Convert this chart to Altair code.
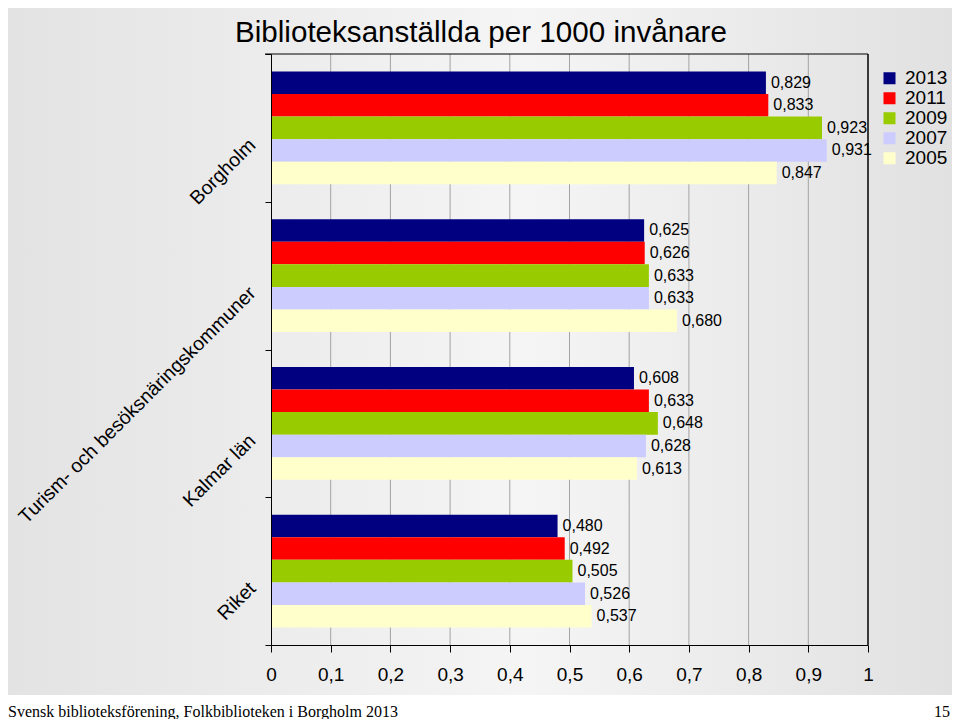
import altair as alt
import pandas as pd

# ---- data ----
groups = ["Borgholm", "Turism- och besöksnäringskommuner", "Kalmar län", "Riket"]
years = ["2013", "2011", "2009", "2007", "2005"]
colors = ["#000080", "#ff0000", "#99cc00", "#ccccff", "#ffffcc"]

borgholm = [0.829, 0.833, 0.923, 0.931, 0.847]
turism = [0.625, 0.626, 0.633, 0.633, 0.680]
kalmar = [0.608, 0.633, 0.648, 0.628, 0.613]
riket = [0.480, 0.492, 0.505, 0.526, 0.537]

x_ticks = [0, 0.1, 0.2, 0.3, 0.4, 0.5, 0.6, 0.7, 0.8, 0.9, 1]
grid_ticks = [0.1, 0.2, 0.3, 0.4, 0.5, 0.6, 0.7, 0.8, 0.9]

title_text = "Biblioteksanställda per 1000 invånare"
footer_left = "Svensk biblioteksförening, Folkbiblioteken i Borgholm 2013"
footer_right = "15"

rows = []
for g, vals in zip(groups, [borgholm, turism, kalmar, riket]):
    for y, v in zip(years, vals):
        rows.append({"group": g, "year": y, "value": v,
                     "label": f"{v:.3f}".replace(".", ",")})
df = pd.DataFrame(rows)

W, H = 597, 591
FONT = "Liberation Sans"

x_scale = alt.Scale(domain=[0, 1], nice=False, zero=True)
y_enc = alt.Y("group:N", sort=groups,
              scale=alt.Scale(paddingInner=0, paddingOuter=0),
              axis=alt.Axis(title=None, labelAngle=-45, labelAlign="right",
                            labelBaseline="middle", labelFontSize=19.5,
                            labelColor="black", labelFont=FONT,
                            domainColor="black", tickColor="black",
                            tickBand="extent", tickSize=6, labelPadding=13,
                            labelOffset=14, labelLimit=500, grid=False,
                            zindex=1))
yoff_enc = alt.YOffset("year:N", sort=years,
                       scale=alt.Scale(paddingOuter=0.77, paddingInner=0))
x_enc = alt.X("value:Q", scale=x_scale,
              axis=alt.Axis(title=None, values=x_ticks,
                            labelExpr="replace(format(datum.value, '~g'), '.', ',')",
                            labelFontSize=19, labelColor="black", labelFont=FONT,
                            labelFlush=False, labelOverlap=False,
                            domainColor="black", tickColor="black",
                            tickSize=7, labelPadding=13, grid=False, zindex=1))

bg = alt.Chart(pd.DataFrame({"a": [0]})).mark_rect(
    fill={"gradient": "linear", "x1": 0, "y1": 0, "x2": 1, "y2": 0,
          "stops": [{"offset": 0, "color": "#e3e3e3"},
                    {"offset": 0.55, "color": "#f5f5f5"},
                    {"offset": 1, "color": "#e1e1e1"}]}
).encode(x=alt.value(-263), x2=alt.value(681), y=alt.value(-46), y2=alt.value(641))

grid = alt.Chart(pd.DataFrame({"t": grid_ticks})).mark_rule(
    color="#a3a3a3", strokeWidth=1
).encode(x=alt.X("t:Q", scale=x_scale))

bars = alt.Chart(df).mark_bar(strokeWidth=0).encode(
    y=y_enc, yOffset=yoff_enc, x=x_enc,
    color=alt.Color("year:N", sort=years,
                    scale=alt.Scale(domain=years, range=colors),
                    legend=alt.Legend(title=None, orient="none",
                                      legendX=609, legendY=15,
                                      padding=0, symbolType="square",
                                      symbolSize=144, symbolStrokeWidth=0,
                                      labelFontSize=19, labelFont=FONT,
                                      labelColor="black", labelOffset=6,
                                      rowPadding=0, clipHeight=18.5))
)

labels = alt.Chart(df).mark_text(
    align="left", baseline="middle", dx=5, fontSize=16, font=FONT, color="black"
).encode(y=alt.Y("group:N", sort=groups), yOffset=alt.YOffset("year:N", sort=years),
         x=alt.X("value:Q", scale=x_scale), text="label:N")

right_border = alt.Chart(pd.DataFrame({"t": [1]})).mark_rule(
    color="black", strokeWidth=1.5
).encode(x=alt.X("t:Q", scale=x_scale))

top_border = alt.Chart(pd.DataFrame({"a": [0]})).mark_rule(
    color="black", strokeWidth=1
).encode(x=alt.value(-6), x2=alt.value(W), y=alt.value(0))

title = alt.Chart(pd.DataFrame({"t": [title_text]})).mark_text(
    align="left", baseline="alphabetic", fontSize=29.6, font=FONT, color="black"
).encode(text="t:N", x=alt.value(-36), y=alt.value(-12))

foot_l = alt.Chart(pd.DataFrame({"t": [footer_left]})).mark_text(
    align="left", baseline="alphabetic", fontSize=16, font="Liberation Serif",
    color="black"
).encode(text="t:N", x=alt.value(-263), y=alt.value(663))

foot_r = alt.Chart(pd.DataFrame({"t": [footer_right]})).mark_text(
    align="right", baseline="alphabetic", fontSize=16, font="Liberation Serif",
    color="black"
).encode(text="t:N", x=alt.value(679), y=alt.value(663))

chart = alt.layer(
    bg, grid, bars, labels, right_border, top_border, title, foot_l, foot_r
).resolve_scale(y="shared").properties(
    width=W, height=H,
    padding={"left": 263, "top": 46, "right": 84, "bottom": 74},
    autosize=alt.AutoSizeParams(type="none"),
    background="white",
).configure_view(strokeWidth=0).configure(font=FONT)

chart.save("out.html", embed_options={"renderer": "svg", "actions": False})
